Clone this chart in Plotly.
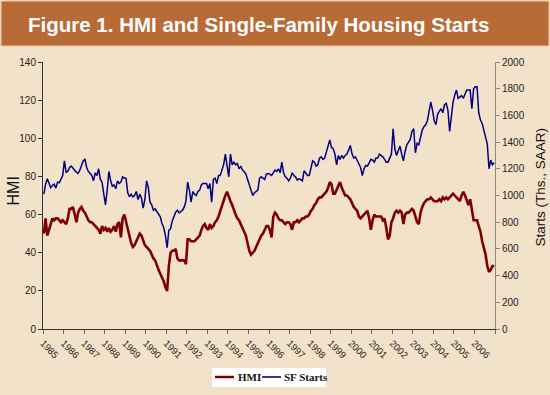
import plotly.graph_objects as go

# ---------------- data ----------------
years = [str(y) for y in range(1985, 2007)]

hmi = [
    50, 58, 49, 52, 55, 58, 57, 58, 58, 57, 56, 57,   # 1985
    56, 55, 58, 63, 63, 64, 60, 56, 61, 63, 64, 62,   # 1986
    61, 59, 57, 56, 56, 55, 54, 53, 52, 50, 54, 52,   # 1987
    53, 51, 53, 51, 52, 54, 51, 55, 56, 48, 58, 60,   # 1988
    56, 52, 49, 45, 43, 44, 46, 48, 50, 49, 46, 44,   # 1989
    43, 42, 41, 39, 37, 36, 33, 31, 29, 27, 25, 22,   # 1990
    20, 33, 40, 41, 41, 42, 37, 36, 36, 36, 36, 34,   # 1991
    47, 47, 46, 46, 46, 47, 48, 49, 52, 54, 55, 53,   # 1992
    52, 55, 53, 54, 56, 57, 59, 62, 64, 67, 70, 72,   # 1993
    69, 67, 65, 62, 60, 58, 57, 55, 53, 51, 49, 45,   # 1994
    41, 39, 40, 41, 43, 45, 47, 49, 50, 52, 54, 54,   # 1995
    52, 48, 59, 61, 60, 58, 57, 57, 56, 55, 56, 56,   # 1996
    55, 52, 56, 56, 57, 56, 57, 58, 58, 59, 59, 60,   # 1997
    62, 63, 65, 66, 68, 69, 69, 70, 71, 72, 74, 77,   # 1998
    76, 71, 71, 73, 75, 77, 74, 72, 70, 70, 69, 68,   # 1999
    66, 64, 63, 62, 59, 58, 59, 60, 61, 62, 58, 52,   # 2000
    57, 60, 59, 59, 59, 59, 57, 58, 53, 47, 49, 56,   # 2001
    58, 61, 62, 61, 62, 61, 55, 60, 61, 61, 62, 63,   # 2002
    62, 59, 56, 55, 61, 64, 66, 67, 68, 68, 69, 68,   # 2003
    67, 67, 67, 68, 67, 69, 68, 69, 68, 69, 70, 71,   # 2004
    70, 69, 68, 67, 70, 72, 70, 67, 65, 68, 61, 57,   # 2005
    57, 57, 54, 51, 46, 42, 39, 33, 30, 31, 33, 33,   # 2006
]

sf_starts = [
    1010, 1085, 1125, 1090, 1060, 1075, 1085, 1055, 1100, 1095, 1120, 1150,  # 1985
    1260, 1175, 1180, 1210, 1220, 1200, 1190, 1175, 1165, 1190, 1220, 1260,  # 1986
    1270, 1210, 1180, 1160, 1150, 1110, 1170, 1150, 1200, 1120, 1100, 1010,  # 1987
    930, 1040, 1180, 1110, 1070, 1080, 1050, 1110, 1090, 1100, 1140, 1130,   # 1988
    1130, 1020, 990, 1010, 990, 1000, 1030, 970, 1010, 980, 905, 970,        # 1989
    1110, 1060, 950, 930, 890, 900, 880, 860, 840, 790, 760, 700,            # 1990
    610, 740, 750, 810, 840, 875, 890, 870, 880, 890, 915, 960,              # 1991
    1100, 1040, 950, 1030, 1010, 1000, 1030, 1040, 1080, 1090, 1090, 1090,   # 1992
    1050, 1090, 950, 1120, 1130, 1090, 1150, 1150, 1190, 1230, 1310, 1230,   # 1993
    1140, 1310, 1230, 1250, 1230, 1240, 1200, 1220, 1190, 1180, 1160, 1120,  # 1994
    1080, 1030, 1000, 1020, 1030, 1040, 1130, 1140, 1130, 1120, 1160, 1165,  # 1995
    1160, 1150, 1170, 1190, 1180, 1200, 1170, 1250, 1170, 1140, 1130, 1110,  # 1996
    1130, 1170, 1150, 1140, 1115, 1125, 1120, 1110, 1185, 1165, 1150, 1150,  # 1997
    1220, 1260, 1250, 1220, 1230, 1280, 1290, 1270, 1280, 1330, 1360, 1416,  # 1998
    1360, 1350, 1310, 1230, 1300, 1270, 1300, 1280, 1300, 1310, 1340, 1375,  # 1999
    1310, 1280, 1290, 1260, 1240, 1210, 1150, 1200, 1225, 1220, 1245, 1270,  # 2000
    1266, 1250, 1280, 1280, 1310, 1300, 1290, 1270, 1250, 1250, 1280, 1310,  # 2001
    1500, 1350, 1300, 1340, 1370, 1310, 1260, 1330, 1380, 1400, 1420, 1480,  # 2002
    1500, 1320, 1390, 1380, 1430, 1490, 1515, 1530, 1560, 1620, 1700, 1640,  # 2003
    1560, 1530, 1610, 1630, 1650, 1620, 1680, 1690, 1640, 1480, 1620, 1700,  # 2004
    1753, 1790, 1728, 1740, 1748, 1728, 1760, 1790, 1790, 1790, 1650, 1800,  # 2005
    1815, 1815, 1620, 1565, 1540, 1480, 1440, 1385, 1200, 1265, 1230, 1245,  # 2006
]

hmi_ticks = [0, 20, 40, 60, 80, 100, 120, 140]
sf_ticks = [0, 200, 400, 600, 800, 1000, 1200, 1400, 1600, 1800, 2000]

assert len(hmi) == len(sf_starts) == 12 * len(years)

months = list(range(len(hmi)))
year_bounds = [12 * k - 0.5 for k in range(len(years) + 1)]
year_text = years + [""]

# ---------------- styling ----------------
BG = "#F3E2CA"
BANNER = "#B96B37"
RED = "#800000"
NAVY = "#000080"
SANS = "Liberation Sans, Arial, Helvetica, sans-serif"
SERIF = "Liberation Serif, Times New Roman, serif"

ML, MR, MT, MB = 43, 55, 62, 66
W, H = 550, 395
PW, PH = W - ML - MR, H - MT - MB


def px(xp):
    return (xp - ML) / PW


def py(yp):
    return (H - MB - yp) / PH


fig = go.Figure()
fig.add_trace(go.Scatter(x=months, y=hmi, name="HMI", mode="lines",
                         line=dict(color=RED, width=2.6), xaxis="x", yaxis="y"))
fig.add_trace(go.Scatter(x=months, y=sf_starts, name="SF Starts", mode="lines",
                         line=dict(color=NAVY, width=1.5), xaxis="x", yaxis="y2"))

xrange_ = [-0.5, len(months) - 0.5]
tickfont = dict(family=SANS, size=10, color="#222")

fig.update_layout(
    width=W, height=H,
    margin=dict(l=ML, r=MR, t=MT, b=MB, pad=0),
    paper_bgcolor=BG, plot_bgcolor=BG,
    showlegend=False,
    xaxis=dict(range=xrange_, tickmode="array", tickvals=year_bounds, ticktext=year_text,
               tickangle=45, ticks="outside", ticklen=4, tickcolor="#666", tickwidth=1,
               showline=True, linecolor="#333", linewidth=1,
               showgrid=False, zeroline=False,
               tickfont=dict(family=SANS, size=9.5, color="#222")),
    xaxis3=dict(overlaying="x", anchor="y", side="bottom", range=xrange_, tickmode="array",
                tickvals=year_bounds, ticks="inside", ticklen=4, tickcolor="#666",
                showticklabels=False, showline=False, showgrid=False, zeroline=False),
    yaxis=dict(range=[0, 140], tickmode="array", tickvals=hmi_ticks,
               ticks="outside", ticklen=4, tickcolor="#333",
               showline=True, linecolor="#333", linewidth=1,
               showgrid=False, zeroline=False, tickfont=tickfont),
    yaxis3=dict(overlaying="y", anchor="x", side="left", range=[0, 140], tickmode="array",
                tickvals=hmi_ticks, ticks="inside", ticklen=3, tickcolor="#333",
                showticklabels=False, showline=False, showgrid=False, zeroline=False),
    yaxis2=dict(overlaying="y", anchor="x", side="right", range=[0, 2000], tickmode="array",
                tickvals=sf_ticks, ticks="outside", ticklen=4, tickcolor="#888",
                showline=True, linecolor="#888", linewidth=1,
                showgrid=False, zeroline=False, tickfont=tickfont),
    yaxis4=dict(overlaying="y", anchor="x", side="right", range=[0, 2000], tickmode="array",
                tickvals=sf_ticks, ticks="inside", ticklen=3, tickcolor="#888",
                showticklabels=False, showline=False, showgrid=False, zeroline=False),
)

shapes = [
    # title banner
    dict(type="rect", xref="paper", yref="paper", x0=px(1), x1=px(549), y0=py(46), y1=py(1),
         fillcolor=BANNER, line=dict(color="#E9C9A5", width=1), layer="above"),
    # legend box
    dict(type="rect", xref="paper", yref="paper", x0=px(212), x1=px(326), y0=py(387), y1=py(368),
         fillcolor="white", line=dict(width=0), layer="above"),
    dict(type="line", xref="paper", yref="paper", x0=px(215), x1=px(234), y0=py(377), y1=py(377),
         line=dict(color=RED, width=2.5)),
    dict(type="line", xref="paper", yref="paper", x0=px(262), x1=px(281), y0=py(377), y1=py(377),
         line=dict(color="#3333AA", width=2)),
]

annotations = [
    dict(text="<b>Figure 1. HMI and Single-Family Housing Starts</b>", xref="paper", yref="paper",
         x=px(258), y=py(24), xanchor="center", yanchor="middle", showarrow=False,
         font=dict(family=SANS, size=20.5, color="white")),
    dict(text="HMI", xref="paper", yref="paper", x=px(12.5), y=py(191), textangle=-90,
         xanchor="center", yanchor="middle", showarrow=False,
         font=dict(family=SANS, size=16, color="#111")),
    dict(text="Starts (Ths., SAAR)", xref="paper", yref="paper", x=px(540), y=py(187.5),
         textangle=-90, xanchor="center", yanchor="middle", showarrow=False,
         font=dict(family=SANS, size=13.5, color="#111")),
    dict(text="<b>HMI</b>", xref="paper", yref="paper", x=px(236), y=py(377.5),
         xanchor="left", yanchor="middle", showarrow=False,
         font=dict(family=SERIF, size=11, color="#111")),
    dict(text="<b>SF Starts</b>", xref="paper", yref="paper", x=px(282), y=py(377.5),
         xanchor="left", yanchor="middle", showarrow=False,
         font=dict(family=SERIF, size=11, color="#111")),
]

fig.update_layout(shapes=shapes, annotations=annotations)
fig.write_html("out.html", post_script="document.body.style.margin='0';",
               config={"displayModeBar": False})
